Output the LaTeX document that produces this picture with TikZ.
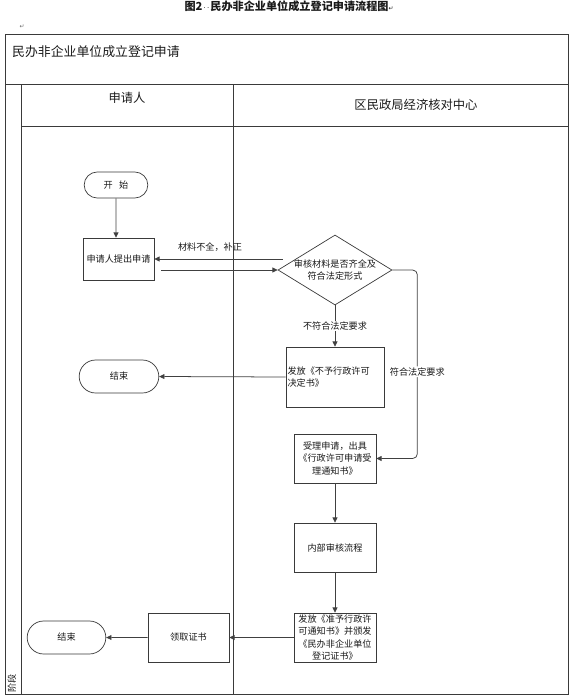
\documentclass[tikz,border=0pt]{standalone}
\usepackage{fontspec}
\setmainfont{Noto Sans CJK SC}
\newfontfamily\markfont{DejaVu Sans}
\usetikzlibrary{arrows.meta, positioning, calc, shapes.geometric, shapes.misc}
\definecolor{sline}{HTML}{3A3A3A}
\definecolor{sconn}{HTML}{404040}
\definecolor{stext}{HTML}{1A1A1A}
\tikzset{
  >={Triangle[length=4.5pt,width=4.2pt]},
  font=\fontsize{7.8}{10.5}\selectfont,
  every node/.style={text=stext},
  frame/.style={draw=sline, line width=0.8pt},
  stepbox/.style={
    draw=sline, fill=white, line width=0.6pt, align=center, inner sep=1pt
  },
  term/.style={
    rounded rectangle, draw=sline, fill=white, line width=0.6pt, inner sep=1pt
  },
  check/.style={
    diamond, aspect=1.63, draw=sline, fill=white, line width=0.6pt,
    align=center, inner sep=-2.5pt, minimum width=3.42cm, minimum height=2.1cm
  },
  arr/.style={->, draw=sconn, line width=0.65pt},
  lanehead/.style={font=\fontsize{10.5}{12}\selectfont},
  lab/.style={fill=white, inner sep=1pt}
}
\begin{document}
\begin{tikzpicture}[x=0.03cm, y=-0.03cm]
  \useasboundingbox (0,0) rectangle (570,698);
  \node[font=\fontsize{9.5}{11}\selectfont\bfseries] (cap) at (289,6)
    {图2{\markfont\mdseries\fontsize{6}{7}\selectfont\,·\,·\,}民办非企业单位成立登记申请流程图{\markfont\mdseries\fontsize{5}{6}\selectfont ↵}};
  \node[font=\markfont\fontsize{5}{6}\selectfont, text=black!60] (mk) at (22,27) {↵};

  \draw[frame] (5,34) rectangle (568,694);
  \draw[frame] (5,84) -- (568,84);
  \draw[frame] (21,84) -- (21,694);
  \draw[frame] (233,84) -- (233,694);
  \draw[frame] (21,126) -- (568,126);

  \node[anchor=west, font=\fontsize{11}{13}\selectfont] (title) at (8,52) {民办非企业单位成立登记申请};
  \node[lanehead] (laneA) at (127,98) {申请人};
  \node[lanehead] (laneB) at (416,105) {区民政局经济核对中心};
  \node[rotate=90] (phase) at (12,683) {阶段};

  \node[term, minimum width=1.98cm, minimum height=0.78cm] (start) at (116,185) {开\hspace{0.7em}始};
  \node[stepbox, minimum width=2.13cm, minimum height=1.26cm] (apply) at (118.5,259) {申请人提出申请};
  \node[check] (chk) at (335,270) {审核材料是否齐全及\\符合法定形式};
  \node[stepbox, minimum width=2.94cm, minimum height=1.8cm, text width=2.85cm, align=left] (reject) at (335,377) {发放《不予行政许可\\决定书》};
  \node[term, minimum width=2.46cm, minimum height=0.99cm] (endA) at (119,376.5) {结束};
  \node[stepbox, minimum width=2.46cm, minimum height=1.47cm] (accept) at (335,458.5) {受理申请，出具\\《行政许可申请受\\理通知书》};
  \node[stepbox, minimum width=2.46cm, minimum height=1.47cm] (review) at (335,547.5) {内部审核流程};
  \node[stepbox, minimum width=2.46cm, minimum height=1.47cm] (issue) at (335,637.5) {发放《准予行政许\\可通知书》并颁发\\《民办非企业单位\\登记证书》};
  \node[stepbox, minimum width=2.43cm, minimum height=1.47cm] (collect) at (188.5,637.5) {领取证书};
  \node[term, minimum width=2.43cm, minimum height=0.99cm] (endB) at (66.5,637.5) {结束};

  \draw[arr] (start) -- (start |- apply.north);
  \draw[arr] ($(chk.west |- apply.east)+(0.15cm,0)$) -- (apply.east);
  \node (missing) at (210,247) {材料不全，补正};
  \draw[arr] ($(apply.east |- chk.west)+(0.21cm,0)$) -- (chk.west);
  \draw[arr] (chk.south) -- node[lab] {不符合法定要求} (reject.north);
  \draw[arr] (reject.west) -- (endA.east);
  \draw[arr, rounded corners=4pt] (chk.east) -- ++(0.75cm,0) |- node[lab, pos=0.27] {符合法定要求} (accept.east);
  \draw[arr] (accept) -- (review);
  \draw[arr] (review) -- (issue);
  \draw[arr] (issue) -- (collect);
  \draw[arr] (collect) -- (endB);
\end{tikzpicture}
\end{document}
